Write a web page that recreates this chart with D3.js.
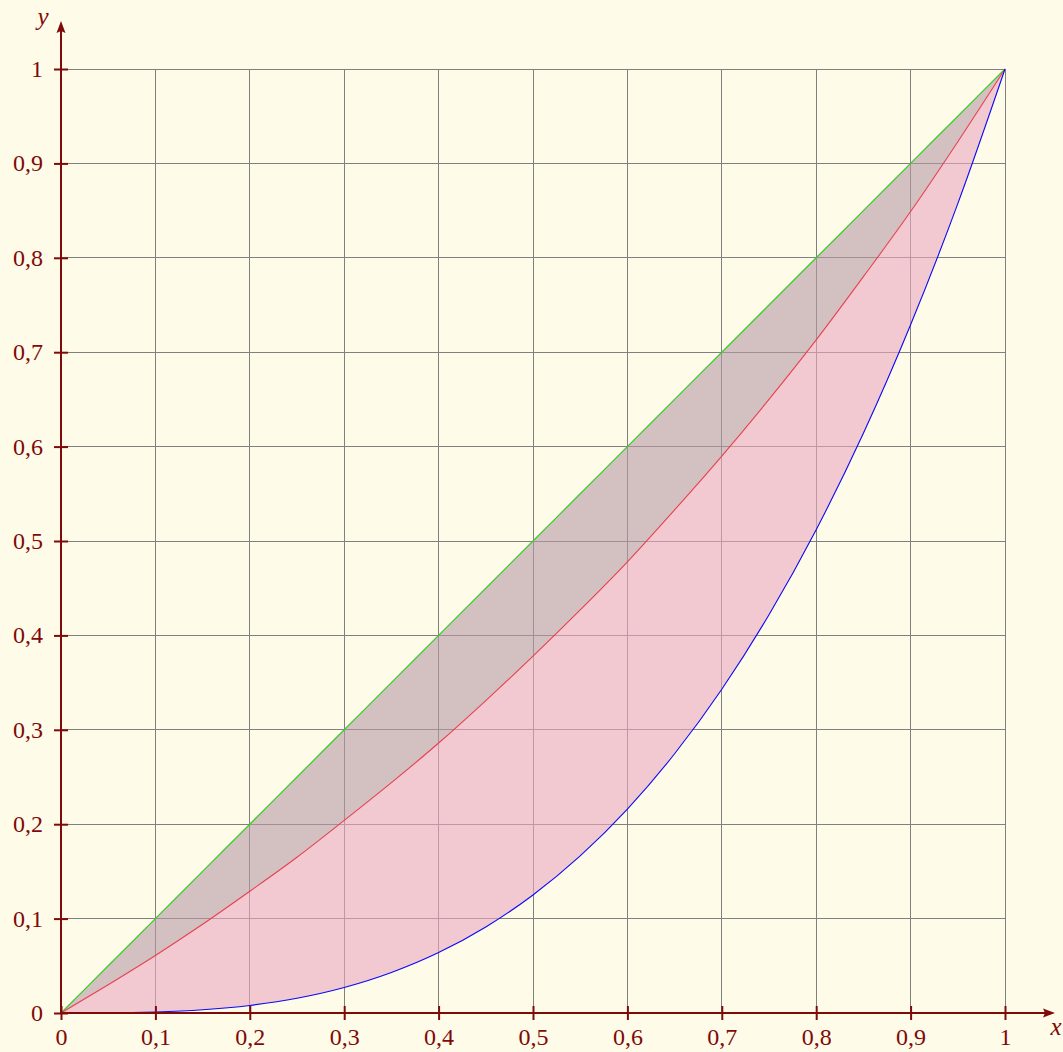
<!DOCTYPE html>
<html>
<head>
<meta charset="utf-8">
<script src="https://cdn.jsdelivr.net/npm/d3@7"></script>
<style>
  html, body { margin: 0; padding: 0; background: #fefbe8; }
  svg { display: block; }
</style>
</head>
<body>
<svg id="chart" width="1063" height="1052"></svg>
<script>
// Sample abscissae shared by the three curves
const xs = [0, 0.05, 0.1, 0.15, 0.2, 0.25, 0.3, 0.35, 0.4, 0.45, 0.5,
            0.55, 0.6, 0.65, 0.7, 0.75, 0.8, 0.85, 0.9, 0.95, 1];
// Diagonal (green)
const diagonal = [0, 0.05, 0.1, 0.15, 0.2, 0.25, 0.3, 0.35, 0.4, 0.45, 0.5,
                  0.55, 0.6, 0.65, 0.7, 0.75, 0.8, 0.85, 0.9, 0.95, 1];
// Middle curve (red)
const middle = [0, 0.030, 0.061, 0.094, 0.129, 0.165, 0.204, 0.244, 0.286, 0.331, 0.378,
                0.427, 0.478, 0.533, 0.590, 0.650, 0.713, 0.780, 0.849, 0.923, 1];
// Lower curve (blue)
const lower = [0, 0.0001, 0.001, 0.0034, 0.008, 0.0156, 0.027, 0.0429, 0.064, 0.0911, 0.125,
               0.1664, 0.216, 0.2746, 0.343, 0.4219, 0.512, 0.6141, 0.729, 0.8574, 1];
const tickValues = [0, 0.1, 0.2, 0.3, 0.4, 0.5, 0.6, 0.7, 0.8, 0.9, 1];

const svg = d3.select("#chart");
const W = 1063, H = 1052;
const x0 = 61, x1 = 1005, yBottom = 1013, yTop = 69;
const axisColor = "#7f0a0a";
const serif = '"Liberation Serif", "DejaVu Serif", serif';

svg.append("rect").attr("width", W).attr("height", H).attr("fill", "#fefbe8");

const x = d3.scaleLinear().domain([0, 1]).range([x0, x1]);
const y = d3.scaleLinear().domain([0, 1]).range([yBottom, yTop]);

// Grid
const grid = svg.append("g").attr("stroke", "#808080").attr("stroke-width", 1).attr("shape-rendering", "crispEdges");
grid.selectAll("line.v").data(tickValues.slice(1)).join("line")
  .attr("class", "v")
  .attr("x1", d => x(d)).attr("x2", d => x(d))
  .attr("y1", y(0)).attr("y2", y(1));
grid.selectAll("line.h").data(tickValues.slice(1)).join("line")
  .attr("class", "h")
  .attr("y1", d => y(d)).attr("y2", d => y(d))
  .attr("x1", x(0)).attr("x2", x(1));

const pts = xs.map((v, i) => ({ x: v, g: diagonal[i], r: middle[i], b: lower[i] }));
const curve = d3.curveMonotoneX;

// Band between diagonal and middle curve
svg.append("path").datum(pts)
  .attr("fill", "rgb(182,153,167)").attr("fill-opacity", 0.6)
  .attr("d", d3.area().curve(curve).x(d => x(d.x)).y0(d => y(d.r)).y1(d => y(d.g)));
// Band between middle and lower curve
svg.append("path").datum(pts)
  .attr("fill", "rgb(234,169,192)").attr("fill-opacity", 0.6)
  .attr("d", d3.area().curve(curve).x(d => x(d.x)).y0(d => y(d.b)).y1(d => y(d.r)));

// Curves
const line = key => d3.line().curve(curve).x(d => x(d.x)).y(d => y(d[key]));
svg.append("path").datum(pts).attr("fill", "none").attr("stroke", "#3fcc2c").attr("stroke-width", 1.3).attr("d", line("g"));
svg.append("path").datum(pts).attr("fill", "none").attr("stroke", "#e8404e").attr("stroke-width", 1.1).attr("d", line("r"));
svg.append("path").datum(pts).attr("fill", "none").attr("stroke", "#0a0af5").attr("stroke-width", 1.1).attr("d", line("b"));

const fmt = d => d === 0 ? "0" : d === 1 ? "1" : d3.format(".1f")(d).replace(".", ",");

// X axis
const gx = svg.append("g").attr("transform", `translate(0,${yBottom})`)
  .call(d3.axisBottom(x).tickValues(tickValues).tickFormat(fmt).tickSize(7))
  .attr("font-family", serif).attr("font-size", 24);
gx.select(".domain").remove();
gx.selectAll(".tick line").attr("y1", -7).attr("y2", 7).attr("stroke", axisColor).attr("stroke-width", 2);
gx.selectAll(".tick text").attr("y", 32).attr("dy", null)
  .style("font-family", serif).style("font-size", "24px").attr("fill", axisColor);

// Y axis
const gy = svg.append("g").attr("transform", `translate(${x0},0)`)
  .call(d3.axisLeft(y).tickValues(tickValues).tickFormat(fmt).tickSize(7))
  .attr("font-family", serif).attr("font-size", 24);
gy.select(".domain").remove();
gy.selectAll(".tick line").attr("x1", -7).attr("x2", 7).attr("stroke", axisColor).attr("stroke-width", 2);
gy.selectAll(".tick text").attr("x", -18).attr("dy", "7.5")
  .style("font-family", serif).style("font-size", "24px").attr("fill", axisColor);

// Axis lines with arrowheads
svg.append("line").attr("x1", x0).attr("x2", 1046).attr("y1", yBottom).attr("y2", yBottom)
  .attr("stroke", axisColor).attr("stroke-width", 2);
svg.append("path").attr("d", `M1055,${yBottom} L1043,${yBottom - 4.5} L1045,${yBottom} L1043,${yBottom + 4.5} Z`).attr("fill", axisColor);
svg.append("line").attr("x1", x0).attr("x2", x0).attr("y1", yBottom).attr("y2", 31)
  .attr("stroke", axisColor).attr("stroke-width", 2);
svg.append("path").attr("d", `M${x0},21 L${x0 - 4.5},33 L${x0},31 L${x0 + 4.5},33 Z`).attr("fill", axisColor);

// Axis names
svg.append("text").attr("x", 1056).attr("y", 1035).attr("text-anchor", "middle")
  .style("font-family", serif).style("font-size", "25px").style("font-style", "italic")
  .attr("fill", axisColor).text("x");
svg.append("text").attr("x", 43).attr("y", 25).attr("text-anchor", "middle")
  .style("font-family", serif).style("font-size", "25px").style("font-style", "italic")
  .attr("fill", axisColor).text("y");
</script>
</body>
</html>
